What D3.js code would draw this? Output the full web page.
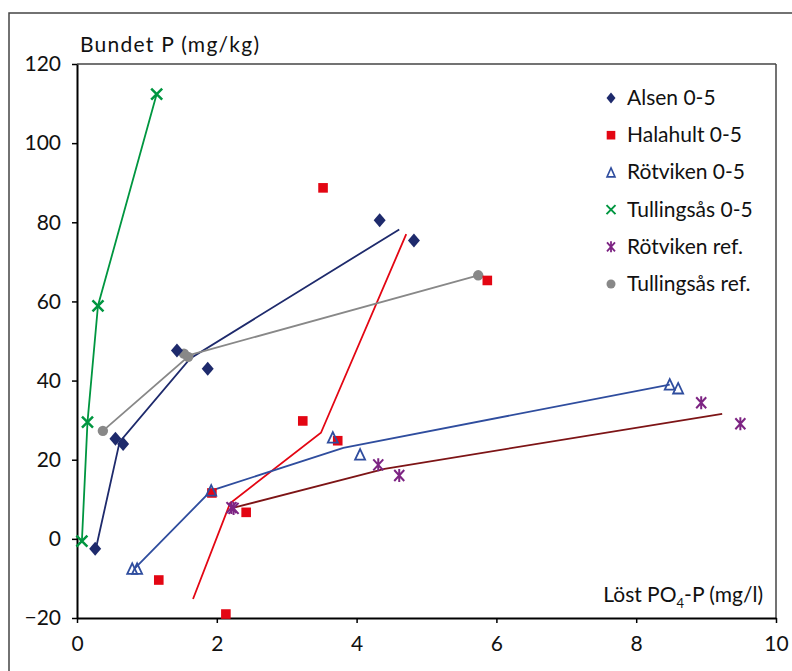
<!DOCTYPE html>
<html><head><meta charset="utf-8">
<script src="https://cdn.jsdelivr.net/npm/d3@7/dist/d3.min.js"></script>
<style>
html,body{margin:0;padding:0;background:#fff;}
svg{display:block;font-family:Lato,"Noto Sans",sans-serif;}
</style></head>
<body>
<svg id="chart" width="792" height="671"></svg>
<script>
// ---- data ----
const seriesNames = ["Alsen 0-5","Halahult 0-5","Rötviken 0-5","Tullingsås 0-5","Rötviken ref.","Tullingsås ref."];
const xTicks = [0,2,4,6,8,10];
const yTicks = [-20,0,20,40,60,80,100,120];

const alsenPts = [[0.26,-2.5],[0.55,25.3],[0.66,24.0],[1.43,47.6],[1.87,43.0],[4.33,80.5],[4.82,75.4]];
const alsenLine = [[0.27,-2.5],[0.61,24.5],[1.62,45.6],[4.61,78.2]];

const halaPts = [[1.93,11.6],[1.17,-10.4],[2.13,-19.0],[2.42,6.7],[3.23,29.8],[3.73,24.8],[3.52,88.7],[5.87,65.3]];
const halaLine = [[1.66,-15.2],[2.19,9.0],[3.49,26.8],[4.71,77.0]];

const rotPts = [[0.79,-7.6],[0.86,-7.6],[1.92,12.2],[3.66,25.6],[4.05,21.3],[8.48,39.0],[8.60,38.0]];
const rotLine = [[0.82,-7.6],[1.92,12.2],[3.81,23.0],[8.48,39.0]];

const tullPts = [[0.07,-0.6],[0.15,29.5],[0.30,58.9],[1.14,112.4]];
const tullLine = [[0.07,-0.6],[0.15,29.5],[0.30,58.9],[1.14,112.4]];

const rotRefPts = [[2.21,7.9],[2.24,7.7],[4.31,18.7],[4.61,16.0],[8.93,34.4],[9.49,29.1]];
const rotRefLine = [[2.23,7.8],[4.40,17.7],[9.23,31.6]];

const tullRefPts = [[0.37,27.3],[1.53,46.8],[1.59,46.0],[5.74,66.6]];
const tullRefLine = [[0.37,27.3],[1.62,46.5],[5.74,66.6]];

// ---- layout ----
const svg = d3.select("#chart");
const L = 77, R = 776, T = 64, B = 618;
const x = d3.scaleLinear().domain([0,10]).range([L,R]);
const y = d3.scaleLinear().domain([-20,120]).range([B,T]);

// outer frame
svg.append("rect").attr("x",9).attr("y",13).attr("width",820).attr("height",720)
  .attr("fill","none").attr("stroke","#444").attr("stroke-width",1.5);

// plot border top/right
svg.append("line").attr("x1",L).attr("x2",R).attr("y1",T).attr("y2",T).attr("stroke","#444").attr("stroke-width",1.5);
svg.append("line").attr("x1",R).attr("x2",R).attr("y1",T).attr("y2",B).attr("stroke","#444").attr("stroke-width",1.5);

// axes
const yAxis = svg.append("g").attr("transform",`translate(${L},0)`)
  .call(d3.axisLeft(y).tickValues(yTicks).tickSize(5).tickSizeOuter(0).tickPadding(11));
const xAxis = svg.append("g").attr("transform",`translate(0,${B})`)
  .call(d3.axisBottom(x).tickValues(xTicks).tickSize(5).tickSizeOuter(0).tickPadding(13));
[yAxis,xAxis].forEach(g=>{
  g.select(".domain").attr("stroke","#000").attr("stroke-width",2);
  g.selectAll(".tick line").attr("stroke","#000").attr("stroke-width",1.5);
  g.selectAll(".tick text").attr("font-family","Lato,'Noto Sans',sans-serif").attr("font-size",21).attr("fill","#111");
});

// axis titles
svg.append("text").attr("x",80).attr("y",52).attr("font-size",21).attr("fill","#111")
  .attr("textLength",179).attr("lengthAdjust","spacing").text("Bundet P (mg/kg)");
const xt = svg.append("text").attr("x",763).attr("y",602).attr("font-size",21).attr("fill","#111").attr("text-anchor","end");
xt.append("tspan").text("Löst PO");
xt.append("tspan").attr("font-size",13).attr("dy",6).text("4");
xt.append("tspan").attr("dy",-6).text("-P (mg/l)");

// ---- marks ----
const lineGen = d3.line().x(d=>x(d[0])).y(d=>y(d[1]));
const colors = {navy:"#1e2a6c", red:"#e30613", blue:"#2f4d9e", green:"#009640", purple:"#7d2483", gray:"#888888", darkred:"#7d1416"};

function drawLine(data,color){
  svg.append("path").datum(data).attr("d",lineGen).attr("fill","none").attr("stroke",color).attr("stroke-width",1.8);
}
drawLine(alsenLine,colors.navy);
drawLine(halaLine,colors.red);
drawLine(rotLine,colors.blue);
drawLine(tullLine,colors.green);
drawLine(rotRefLine,colors.darkred);
drawLine(tullRefLine,colors.gray);

const markers = {
  diamond:(g,c)=>g.append("path").attr("d","M0,-7L6,0L0,7L-6,0Z").attr("fill",c),
  square:(g,c)=>g.append("rect").attr("x",-4.8).attr("y",-4.8).attr("width",9.6).attr("height",9.6).attr("fill",c),
  triangle:(g,c)=>g.append("path").attr("d","M0,-5.5L5,5L-5,5Z").attr("fill","none").attr("stroke",c).attr("stroke-width",1.8),
  cross:(g,c)=>g.append("path").attr("d","M-5.5,-5.5L5.5,5.5M-5.5,5.5L5.5,-5.5").attr("stroke",c).attr("stroke-width",2.5),
  star:(g,c)=>g.append("path").attr("d","M-5,-5.5L5,5.5M-5,5.5L5,-5.5M0,-6.5L0,6.5").attr("stroke",c).attr("stroke-width",2),
  circle:(g,c)=>g.append("circle").attr("r",5.2).attr("fill",c)
};
function drawPts(data,shape,color){
  data.forEach(d=>{
    const g = svg.append("g").attr("transform",`translate(${x(d[0])},${y(d[1])})`);
    markers[shape](g,color);
  });
}
drawPts(tullRefPts,"circle",colors.gray);
drawPts(alsenPts,"diamond",colors.navy);
drawPts(halaPts,"square",colors.red);
drawPts(rotPts,"triangle",colors.blue);
drawPts(tullPts,"cross",colors.green);
drawPts(rotRefPts,"star",colors.purple);

// ---- legend ----
const legendShapes = ["diamond","square","triangle","cross","star","circle"];
const legendColors = [colors.navy,colors.red,colors.blue,colors.green,colors.purple,colors.gray];
seriesNames.forEach((n,i)=>{
  const cy = 98 + i*37.2;
  const g = svg.append("g").attr("transform",`translate(611,${cy})`);
  const s = legendShapes[i];
  if(s==="diamond") g.append("path").attr("d","M0,-5.5L4.5,0L0,5.5L-4.5,0Z").attr("fill",legendColors[i]);
  else if(s==="square") g.append("rect").attr("x",-4.3).attr("y",-4.3).attr("width",8.6).attr("height",8.6).attr("fill",legendColors[i]);
  else if(s==="triangle") g.append("path").attr("d","M0,-4.5L4,4.5L-4,4.5Z").attr("fill","none").attr("stroke",legendColors[i]).attr("stroke-width",1.6);
  else if(s==="cross") g.append("path").attr("d","M-4.5,-4.5L4.5,4.5M-4.5,4.5L4.5,-4.5").attr("stroke",legendColors[i]).attr("stroke-width",2);
  else if(s==="star") g.append("path").attr("d","M-4,-4.5L4,4.5M-4,4.5L4,-4.5M0,-5.5L0,5.5").attr("stroke",legendColors[i]).attr("stroke-width",1.8);
  else g.append("circle").attr("r",4.5).attr("fill",legendColors[i]);
  svg.append("text").attr("x",627).attr("y",cy+7).attr("font-size",21).attr("fill","#111").text(n);
});
</script>
</body></html>
